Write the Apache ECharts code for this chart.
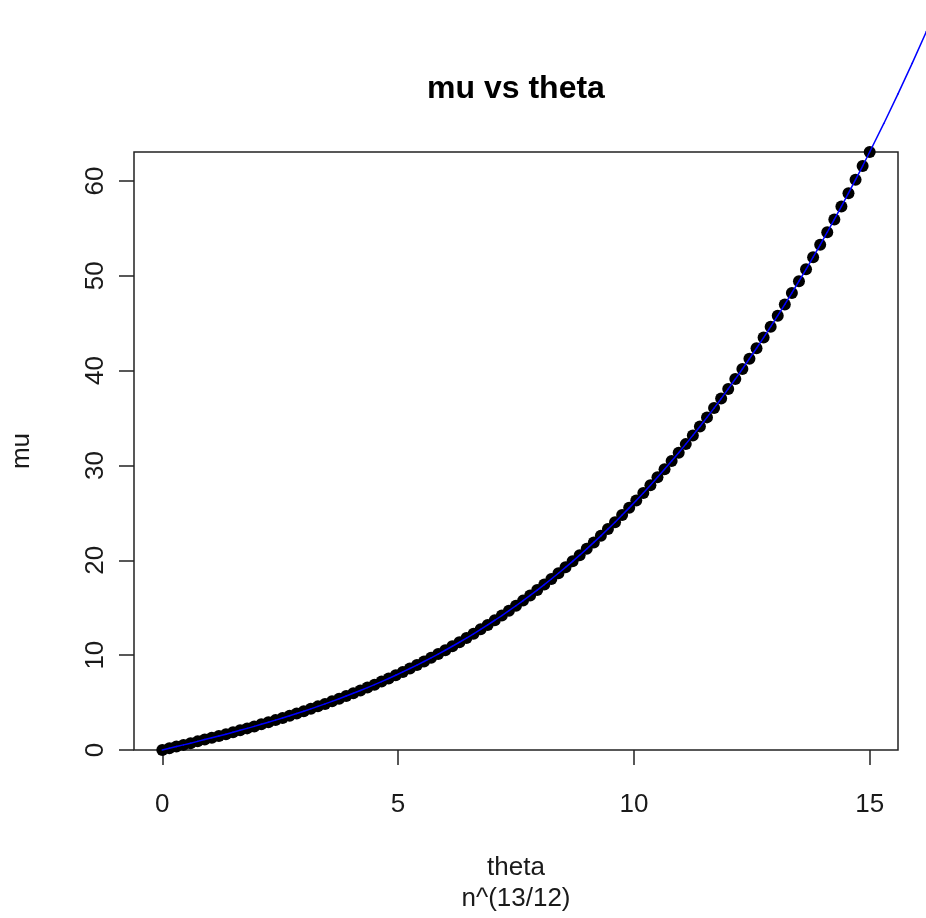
<!DOCTYPE html>
<html>
<head>
<meta charset="utf-8">
<title>mu vs theta</title>
<script src="https://cdn.jsdelivr.net/npm/echarts@6/dist/echarts.min.js"></script>
<style>
  html, body { margin: 0; padding: 0; background: #fff; }
  #chart { width: 926px; height: 918px; }
</style>
</head>
<body>
<div id="chart"></div>
<script>
// theta values of the plotted points
const theta = [
  0.00, 0.15, 0.30, 0.45, 0.60, 0.75, 0.90, 1.05, 1.20, 1.35,
  1.50, 1.65, 1.80, 1.95, 2.10, 2.25, 2.40, 2.55, 2.70, 2.85,
  3.00, 3.15, 3.30, 3.45, 3.60, 3.75, 3.90, 4.05, 4.20, 4.35,
  4.50, 4.65, 4.80, 4.95, 5.10, 5.25, 5.40, 5.55, 5.70, 5.85,
  6.00, 6.15, 6.30, 6.45, 6.60, 6.75, 6.90, 7.05, 7.20, 7.35,
  7.50, 7.65, 7.80, 7.95, 8.10, 8.25, 8.40, 8.55, 8.70, 8.85,
  9.00, 9.15, 9.30, 9.45, 9.60, 9.75, 9.90, 10.05, 10.20, 10.35,
  10.50, 10.65, 10.80, 10.95, 11.10, 11.25, 11.40, 11.55, 11.70, 11.85,
  12.00, 12.15, 12.30, 12.45, 12.60, 12.75, 12.90, 13.05, 13.20, 13.35,
  13.50, 13.65, 13.80, 13.95, 14.10, 14.25, 14.40, 14.55, 14.70, 14.85,
  15.00
];

// mu values of the plotted points
const mu = [
  0.00, 0.18, 0.36, 0.54, 0.72, 0.91, 1.10, 1.29, 1.48, 1.67,
  1.87, 2.08, 2.28, 2.49, 2.71, 2.92, 3.15, 3.38, 3.61, 3.85,
  4.09, 4.34, 4.60, 4.86, 5.13, 5.40, 5.69, 5.98, 6.27, 6.58,
  6.89, 7.21, 7.54, 7.88, 8.23, 8.59, 8.95, 9.33, 9.72, 10.11,
  10.52, 10.94, 11.36, 11.80, 12.25, 12.72, 13.19, 13.68, 14.18, 14.69,
  15.21, 15.75, 16.30, 16.86, 17.44, 18.03, 18.64, 19.26, 19.89, 20.54,
  21.21, 21.89, 22.58, 23.30, 24.02, 24.77, 25.53, 26.31, 27.10, 27.92,
  28.75, 29.59, 30.46, 31.35, 32.25, 33.17, 34.11, 35.07, 36.05, 37.05,
  38.07, 39.11, 40.17, 41.26, 42.36, 43.48, 44.63, 45.79, 46.98, 48.19,
  49.43, 50.68, 51.96, 53.26, 54.59, 55.94, 57.31, 58.71, 60.13, 61.57,
  63.05
];

// the blue fitted line keeps going past the box (top right corner)
const lineThetaExtra = [15.3, 15.6, 15.9, 16.2, 16.5];
const lineMuExtra = [66.06, 69.18, 72.40, 75.73, 79.17];

// tick labels
const xTicks = [0, 5, 10, 15];
const yTicks = [0, 10, 20, 30, 40, 50, 60];

const points = theta.map((t, i) => [t, mu[i]]);
const linePoints = points.concat(lineThetaExtra.map((t, i) => [t, lineMuExtra[i]]));
// line as segments [x1, y1, x2, y2] so it can run outside the plot box
const segments = [];
for (let i = 1; i < linePoints.length; i++) {
  segments.push([linePoints[i - 1][0], linePoints[i - 1][1], linePoints[i][0], linePoints[i][1]]);
}

const font = 'Liberation Sans, Arial, Helvetica, sans-serif';
const chart = echarts.init(document.getElementById('chart'), null, { renderer: 'canvas' });

const option = {
  animation: false,
  backgroundColor: '#fff',
  title: {
    text: 'mu vs theta',
    left: 511,
    textAlign: 'center',
    top: 68,
    textStyle: { fontFamily: font, fontSize: 32, fontWeight: 'bold', color: '#000' }
  },
  grid: {
    left: 134,
    right: 28,
    top: 152,
    bottom: 168,
    containLabel: false,
    outerBoundsMode: 'none',
    show: true,
    borderColor: '#222',
    borderWidth: 1.5,
    backgroundColor: 'transparent'
  },
  xAxis: {
    type: 'value',
    min: -0.6,
    max: 15.6,
    name: 'theta\nn^(13/12)',
    nameLocation: 'middle',
    nameGap: 102,
    nameTextStyle: { fontFamily: font, fontSize: 26, color: '#1a1a1a', lineHeight: 31 },
    axisLine: { show: false, onZero: false },
    axisTick: {
      show: true,
      length: 15,
      customValues: xTicks,
      lineStyle: { color: '#222', width: 1.5 }
    },
    axisLabel: {
      customValues: xTicks,
      margin: 42,
      fontFamily: font,
      fontSize: 26,
      color: '#1a1a1a'
    },
    splitLine: { show: false }
  },
  yAxis: {
    type: 'value',
    min: 0,
    max: 63.05,
    name: 'mu',
    nameLocation: 'middle',
    nameGap: 99,
    nameRotate: 90,
    nameTextStyle: { fontFamily: font, fontSize: 26, color: '#1a1a1a' },
    axisLine: { show: false, onZero: false },
    axisTick: {
      show: true,
      length: 15,
      customValues: yTicks,
      lineStyle: { color: '#222', width: 1.5 }
    },
    axisLabel: {
      customValues: yTicks,
      rotate: 90,
      margin: 25,
      fontFamily: font,
      fontSize: 26,
      color: '#1a1a1a'
    },
    splitLine: { show: false }
  },
  series: [
    {
      type: 'scatter',
      data: points,
      symbol: 'circle',
      symbolSize: 12,
      itemStyle: { color: '#000', opacity: 1 },
      clip: false,
      z: 2
    },
    {
      type: 'custom',
      data: segments,
      encode: { x: [0, 2], y: [1, 3] },
      clip: false,
      z: 3,
      renderItem: function (params, api) {
        const p1 = api.coord([api.value(0), api.value(1)]);
        const p2 = api.coord([api.value(2), api.value(3)]);
        return {
          type: 'line',
          shape: { x1: p1[0], y1: p1[1], x2: p2[0], y2: p2[1] },
          style: { stroke: '#0000ff', lineWidth: 1.5, lineCap: 'round' }
        };
      }
    }
  ]
};

chart.setOption(option);
</script>
</body>
</html>
